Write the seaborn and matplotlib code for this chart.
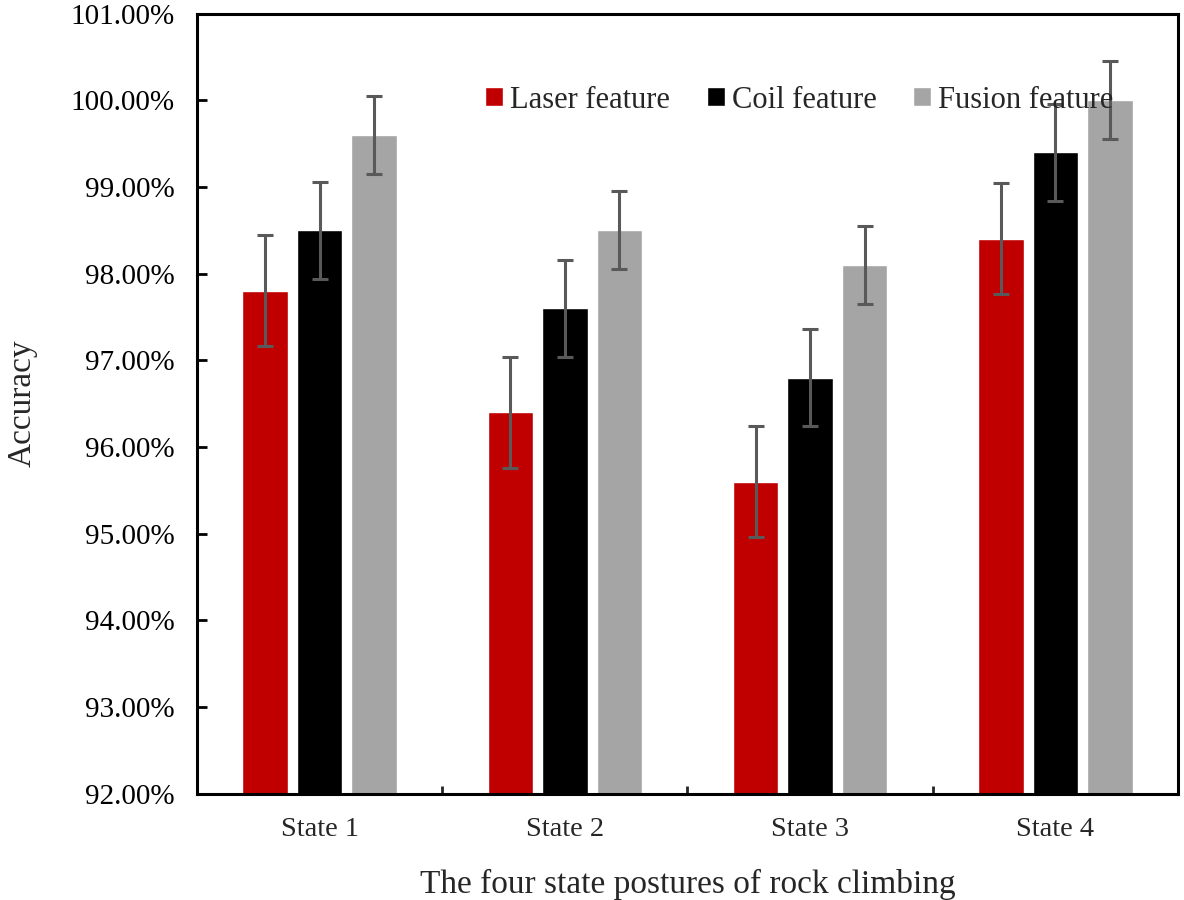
import numpy as np
import pandas as pd
import matplotlib
matplotlib.use("Agg")
import matplotlib.pyplot as plt
import seaborn as sns
from matplotlib.ticker import FuncFormatter, FixedLocator

states = ["State 1", "State 2", "State 3", "State 4"]
features = ["Laser feature", "Coil feature", "Fusion feature"]
laser = [97.8, 96.4, 95.6, 98.4]
coil = [98.5, 97.6, 96.8, 99.4]
fusion = [99.6, 98.5, 98.1, 100.0]
laser_err = [0.64, 0.64, 0.64, 0.64]
coil_err = [0.56, 0.56, 0.56, 0.56]
fusion_err = [0.45, 0.45, 0.45, 0.45]
colors = ["#C00000", "#000000", "#A5A5A5"]
y_ticks = [92, 93, 94, 95, 96, 97, 98, 99, 100, 101]

sns.set_style("white")
plt.rcParams['font.family'] = ['Liberation Serif', 'DejaVu Serif']

df = pd.DataFrame({
    "State": states * 3,
    "Feature": [f for f in features for _ in states],
    "Accuracy": laser + coil + fusion,
})
errs = {features[0]: laser_err, features[1]: coil_err, features[2]: fusion_err}

fig = plt.figure(figsize=(11.84, 9), dpi=100)
ax = fig.add_axes([0.1664, 0.1183, 0.8285, 0.8667])

sns.barplot(data=df, x="State", y="Accuracy", hue="Feature", order=states,
            hue_order=features, palette=colors, width=0.667, gap=0.165,
            errorbar=None, saturation=1, ax=ax)

for cont, feat in zip(ax.containers, features):
    xs = [p.get_x() + p.get_width() / 2 for p in cont.patches]
    ys = [p.get_height() for p in cont.patches]
    ax.errorbar(xs, ys, yerr=errs[feat], fmt="none", ecolor="#595959",
                elinewidth=2.2, capsize=6, capthick=2.2, zorder=5)

ax.set_ylim(92, 101)
ax.set_xlim(-0.5, 3.5)
ax.yaxis.set_major_locator(FixedLocator(y_ticks))
ax.yaxis.set_major_formatter(FuncFormatter(lambda v, p: f"{v:.2f}%"))
ax.tick_params(axis="y", direction="in", length=7, width=2.0, labelsize=21,
               pad=16, left=True, right=False, colors="black")
ax.tick_params(axis="x", which="major", length=0, labelsize=20.5, pad=17)
ax.set_xticks([0.5, 1.5, 2.5], minor=True)
ax.tick_params(axis="x", which="minor", direction="in", length=6, width=2.0,
               bottom=True, top=False)

for s in ax.spines.values():
    s.set_visible(True)
    s.set_linewidth(2.2)
    s.set_color("black")

ax.set_xlabel("The four state postures of rock climbing", fontsize=24, labelpad=19)
ax.set_ylabel("Accuracy", fontsize=24, labelpad=24)

ax.legend(loc="center left", bbox_to_anchor=(0.2936, 0.889), ncol=3,
          frameon=False, fontsize=22, handlelength=0.59, handleheight=0.59,
          handletextpad=0.23, columnspacing=1.2, borderpad=0, borderaxespad=0)

fig.savefig("out.png", dpi=100)
